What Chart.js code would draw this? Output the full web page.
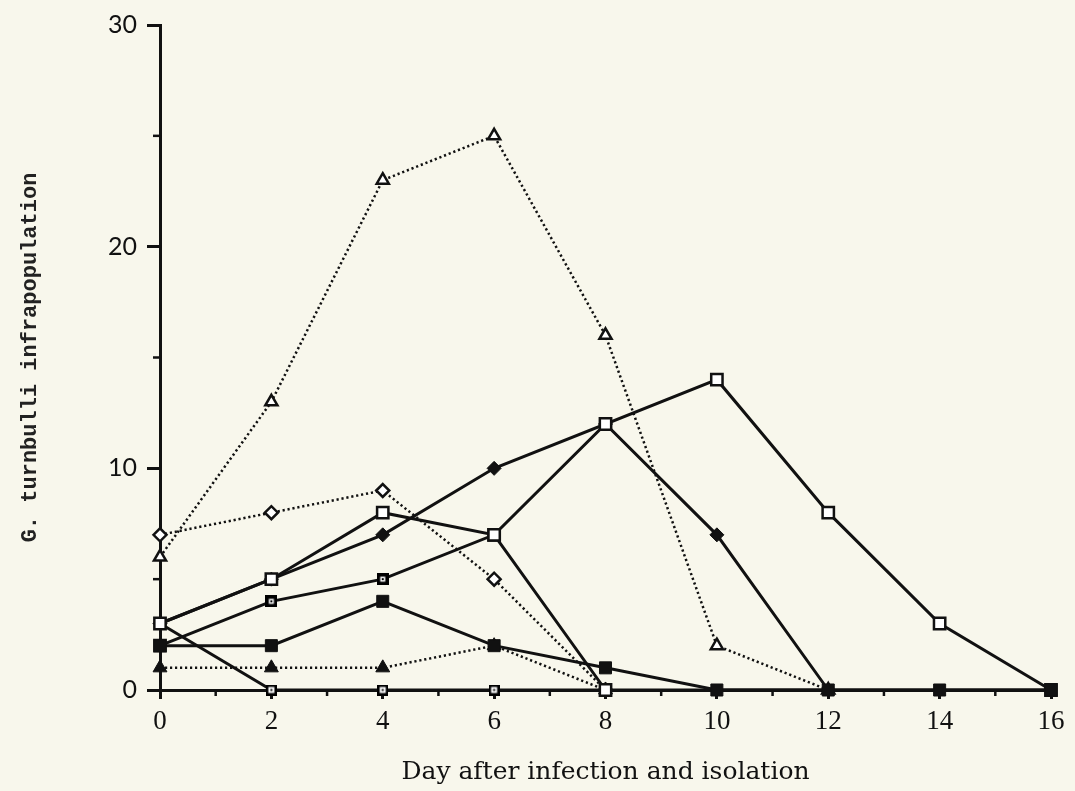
<!DOCTYPE html>
<html><head><meta charset="utf-8">
<script src="https://cdn.jsdelivr.net/npm/chart.js@4.4.1/dist/chart.umd.min.js"></script>
<style>html,body{margin:0;padding:0;background:#f8f7ec;overflow:hidden;}#wrap{width:1075px;height:791px;}</style>
</head><body><div id="wrap"><canvas id="c" width="1075" height="791"></canvas></div>
<script>
// ---- data ----
const days = [0, 2, 4, 6, 8, 10, 12, 14, 16];
const openTriangle   = [6, 13, 23, 25, 16, 2, 0];
const openDiamond    = [7, 8, 9, 5, 0];
const filledTriangle = [1, 1, 1, 2, 0];
const filledDiamond  = [3, 5, 7, 10, 12, 7, 0];
const openSquareShort = [3, 5, 8, 7, 0];
const openSquareLong  = [2, 4, 5, 7, 12, 14, 8, 3, 0];
const dotSquareSeries = [3, 0, 0, 0, 0, 0, 0, 0, 0];
const filledSquare    = [2, 2, 4, 2, 1, 0, 0, 0, 0];
const yTicks = [0, 10, 20, 30];
const yMinorTicks = [5, 15, 25];
const xTicks = [0, 2, 4, 6, 8, 10, 12, 14, 16];
const xMinorTicks = [1, 3, 5, 7, 9, 11, 13, 15];
const xTitle = 'Day after infection and isolation';
const yTitle = 'G. turnbulli infrapopulation';

const pts = arr => arr.map((v, i) => ({x: days[i], y: v}));

// marker image: square with a dot in the middle
function makeDotSquare(size, border) {
  const c = document.createElement('canvas');
  c.width = size; c.height = size;
  const g = c.getContext('2d');
  g.fillStyle = '#000'; g.fillRect(0, 0, size, size);
  g.fillStyle = '#fff'; g.fillRect(border, border, size - 2 * border, size - 2 * border);
  g.fillStyle = '#000'; g.fillRect(size / 2 - 1, size / 2 - 1, 2, 2);
  return c;
}
const dotSq = makeDotSquare(12, 3.5);
const dotSqSmall = makeDotSquare(11, 2.5);

const BLACK = '#111';
const WHITE = '#fff';
const dotted = [2.2, 2.8];

const minorTicks = {
  id: 'minorTicks',
  afterDraw(chart) {
    const ctx = chart.ctx, xs = chart.scales.x, ys = chart.scales.y;
    ctx.save();
    ctx.strokeStyle = BLACK; ctx.lineWidth = 2.5;
    yMinorTicks.forEach(v => {
      const p = ys.getPixelForValue(v);
      ctx.beginPath(); ctx.moveTo(xs.left - 7, p); ctx.lineTo(xs.left, p); ctx.stroke();
    });
    xMinorTicks.forEach(v => {
      const p = xs.getPixelForValue(v);
      ctx.beginPath(); ctx.moveTo(p, ys.bottom); ctx.lineTo(p, ys.bottom + 6); ctx.stroke();
    });
    ctx.restore();
  }
};

const bgPlugin = {
  id: 'bg',
  beforeDraw(chart) {
    const ctx = chart.ctx;
    ctx.save(); ctx.fillStyle = '#f8f7ec'; ctx.fillRect(0, 0, chart.width, chart.height); ctx.restore();
  }
};

const base = {borderColor: BLACK, borderWidth: 3, pointBorderColor: BLACK, pointBorderWidth: 2.5, tension: 0, clip: false};

const datasets = [
  Object.assign({}, base, {label: 'filled square', data: pts(filledSquare), pointStyle: 'rect', pointRadius: 8.5, pointBackgroundColor: BLACK, pointBorderWidth: 1}),
  Object.assign({}, base, {label: 'open square long', data: pts(openSquareLong),
    pointStyle: openSquareLong.map((v, i) => (i === 1 || i === 2) ? dotSq : 'rect'),
    pointRadius: 8, pointBackgroundColor: WHITE}),
  Object.assign({}, base, {label: 'open square short', data: pts(openSquareShort), pointStyle: 'rect', pointRadius: 8, pointBackgroundColor: WHITE}),
  Object.assign({}, base, {label: 'dot square', data: pts(dotSquareSeries), pointStyle: dotSqSmall, pointRadius: 6, pointBackgroundColor: WHITE}),
  Object.assign({}, base, {label: 'filled diamond', data: pts(filledDiamond), pointStyle: 'rectRot', pointRadius: 7, pointBackgroundColor: BLACK, pointBorderWidth: 1}),
  Object.assign({}, base, {label: 'filled triangle', data: pts(filledTriangle), borderDash: dotted, borderWidth: 2.5, pointStyle: 'triangle', pointRadius: 8, pointBackgroundColor: BLACK, pointBorderWidth: 1}),
  Object.assign({}, base, {label: 'open diamond', data: pts(openDiamond), borderDash: dotted, borderWidth: 2.5, pointStyle: 'rectRot', pointRadius: 6.5, pointBackgroundColor: WHITE, pointBorderWidth: 2.5}),
  Object.assign({}, base, {label: 'open triangle', data: pts(openTriangle), borderDash: dotted, borderWidth: 2.5, pointStyle: 'triangle', pointRadius: 7, pointBackgroundColor: WHITE, pointBorderWidth: 2.5}),
];

new Chart(document.getElementById('c'), {
  type: 'line',
  data: {datasets},
  options: {
    responsive: false,
    animation: false,
    devicePixelRatio: 1,
    layout: {padding: {left: 0, right: 24, top: 22, bottom: 0}},
    plugins: {legend: {display: false}, tooltip: {enabled: false}},
    scales: {
      x: {
        type: 'linear', min: 0, max: 16,
        afterBuildTicks: s => { s.ticks = xTicks.map(v => ({value: v})); },
        afterFit: s => { s.height = 101; },
        grid: {drawOnChartArea: false, color: BLACK, tickLength: 9, tickWidth: 3},
        border: {color: BLACK, width: 3},
        ticks: {color: '#111', padding: 7, maxRotation: 0, font: {family: 'Liberation Serif', size: 27}},
        title: {display: true, text: xTitle, color: '#111', padding: {top: 0, bottom: 4}, font: {family: 'DejaVu Serif', size: 25}}
      },
      y: {
        type: 'linear', min: 0, max: 30,
        afterBuildTicks: s => { s.ticks = yTicks.map(v => ({value: v})); },
        afterFit: s => { s.width = 160; },
        grid: {drawOnChartArea: false, color: BLACK, tickLength: 13, tickWidth: 3},
        border: {color: BLACK, width: 3},
        ticks: {color: '#111', padding: 10, font: {family: 'Lato', size: 25}},
        title: {display: true, text: yTitle, color: '#222', padding: {top: 17, bottom: 0}, font: {family: 'Liberation Mono', size: 22, weight: 'bold'}}
      }
    }
  },
  plugins: [bgPlugin, minorTicks]
});
</script>
</body></html>
